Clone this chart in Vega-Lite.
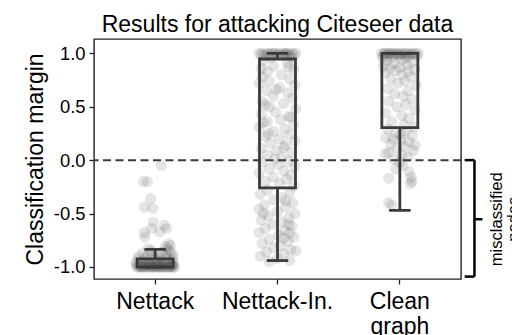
{
  "$schema": "https://vega.github.io/schema/vega-lite/v6.json",
  "width": 367,
  "height": 240,
  "autosize": {"type": "none"},
  "padding": {"left": 94, "top": 39, "right": 51, "bottom": 56},
  "background": "white",
  "title": {
    "text": "Results for attacking Citeseer data",
    "font": "Liberation Sans",
    "fontSize": 23,
    "fontWeight": "normal",
    "color": "#000",
    "anchor": "middle",
    "baseline": "alphabetic",
    "offset": 8,
    "dy": 24
  },
  "config": {
    "view": {"stroke": "#222", "strokeWidth": 1.4},
    "axis": {
      "domain": false,
      "grid": false,
      "tickColor": "#222",
      "tickWidth": 1.3,
      "tickSize": 5,
      "labelFont": "Liberation Sans",
      "titleFont": "Liberation Sans",
      "labelColor": "#000",
      "titleColor": "#000",
      "titleFontWeight": "normal"
    }
  },
  "datasets": {
    "points": [
      {"method": "Nettack", "margin": -0.05, "jitter": 0.3},
      {"method": "Nettack", "margin": -0.2, "jitter": -0.58},
      {"method": "Nettack", "margin": -0.2, "jitter": -0.38},
      {"method": "Nettack", "margin": -0.36, "jitter": -0.22},
      {"method": "Nettack", "margin": -0.44, "jitter": -0.53},
      {"method": "Nettack", "margin": -0.45, "jitter": -0.12},
      {"method": "Nettack", "margin": -0.58, "jitter": -0.09},
      {"method": "Nettack", "margin": -0.61, "jitter": 0.45},
      {"method": "Nettack", "margin": -0.64, "jitter": 0.55},
      {"method": "Nettack", "margin": -0.68, "jitter": -0.53},
      {"method": "Nettack", "margin": -0.64, "jitter": -0.17},
      {"method": "Nettack", "margin": -0.67, "jitter": 0.22},
      {"method": "Nettack", "margin": -0.72, "jitter": -0.5},
      {"method": "Nettack", "margin": -0.78, "jitter": 0.67},
      {"method": "Nettack", "margin": -0.8, "jitter": 0.75},
      {"method": "Nettack", "margin": -0.81, "jitter": 0.5},
      {"method": "Nettack", "margin": -0.83, "jitter": 0.6},
      {"method": "Nettack", "margin": -0.83, "jitter": -0.33},
      {"method": "Nettack", "margin": -0.85, "jitter": 0.7},
      {"method": "Nettack", "margin": -0.85, "jitter": -0.2},
      {"method": "Nettack", "margin": -0.86, "jitter": 0.35},
      {"method": "Nettack", "margin": -0.87, "jitter": -0.6},
      {"method": "Nettack", "margin": -0.87, "jitter": 0.8},
      {"method": "Nettack", "margin": -0.88, "jitter": 0.1},
      {"method": "Nettack", "margin": -0.89, "jitter": -0.35},
      {"method": "Nettack", "margin": -0.89, "jitter": 0.55},
      {"method": "Nettack", "margin": -0.9, "jitter": 0.9},
      {"method": "Nettack", "margin": -0.9, "jitter": -0.8},
      {"method": "Nettack", "margin": -0.91, "jitter": 0.25},
      {"method": "Nettack", "margin": -0.91, "jitter": -0.1},
      {"method": "Nettack", "margin": -0.92, "jitter": -0.5},
      {"method": "Nettack", "margin": -0.92, "jitter": 0.6},
      {"method": "Nettack", "margin": -0.93, "jitter": 0.0},
      {"method": "Nettack", "margin": -0.93, "jitter": 0.85},
      {"method": "Nettack", "margin": -0.93, "jitter": -0.85},
      {"method": "Nettack", "margin": -0.94, "jitter": -0.3},
      {"method": "Nettack", "margin": -0.94, "jitter": 0.4},
      {"method": "Nettack", "margin": -0.95, "jitter": 0.7},
      {"method": "Nettack", "margin": -0.95, "jitter": -0.65},
      {"method": "Nettack", "margin": -0.95, "jitter": 0.15},
      {"method": "Nettack", "margin": -0.96, "jitter": -0.4},
      {"method": "Nettack", "margin": -0.96, "jitter": 0.5},
      {"method": "Nettack", "margin": -0.96, "jitter": -0.95},
      {"method": "Nettack", "margin": -0.97, "jitter": 0.05},
      {"method": "Nettack", "margin": -0.97, "jitter": 0.9},
      {"method": "Nettack", "margin": -0.97, "jitter": -0.7},
      {"method": "Nettack", "margin": -0.97, "jitter": 0.35},
      {"method": "Nettack", "margin": -0.98, "jitter": -0.2},
      {"method": "Nettack", "margin": -0.98, "jitter": 0.6},
      {"method": "Nettack", "margin": -0.98, "jitter": -0.9},
      {"method": "Nettack", "margin": -0.98, "jitter": 0.2},
      {"method": "Nettack", "margin": -0.99, "jitter": 0.8},
      {"method": "Nettack", "margin": -0.99, "jitter": -0.5},
      {"method": "Nettack", "margin": -0.99, "jitter": 0.0},
      {"method": "Nettack", "margin": -0.99, "jitter": -0.25},
      {"method": "Nettack", "margin": -0.99, "jitter": 0.45},
      {"method": "Nettack", "margin": -1.0, "jitter": -0.9},
      {"method": "Nettack", "margin": -1.0, "jitter": -0.7},
      {"method": "Nettack", "margin": -1.0, "jitter": -0.5},
      {"method": "Nettack", "margin": -1.0, "jitter": -0.3},
      {"method": "Nettack", "margin": -1.0, "jitter": -0.1},
      {"method": "Nettack", "margin": -1.0, "jitter": 0.1},
      {"method": "Nettack", "margin": -1.0, "jitter": 0.3},
      {"method": "Nettack", "margin": -1.0, "jitter": 0.5},
      {"method": "Nettack", "margin": -1.0, "jitter": 0.7},
      {"method": "Nettack", "margin": -1.0, "jitter": 0.9},
      {"method": "Nettack", "margin": -1.0, "jitter": -0.8},
      {"method": "Nettack", "margin": -1.0, "jitter": -0.4},
      {"method": "Nettack", "margin": -1.0, "jitter": 0.0},
      {"method": "Nettack", "margin": -1.0, "jitter": 0.4},
      {"method": "Nettack", "margin": -1.0, "jitter": 0.8},
      {"method": "Nettack", "margin": -1.0, "jitter": -0.6},
      {"method": "Nettack", "margin": -1.0, "jitter": -0.2},
      {"method": "Nettack", "margin": -1.0, "jitter": 0.2},
      {"method": "Nettack", "margin": -1.0, "jitter": 0.6},
      {"method": "Nettack", "margin": -1.0, "jitter": 0.95},
      {"method": "Nettack", "margin": -1.0, "jitter": -0.65},
      {"method": "Nettack", "margin": -1.0, "jitter": -0.15},
      {"method": "Nettack", "margin": -1.0, "jitter": 0.25},
      {"method": "Nettack", "margin": -1.0, "jitter": 0.65},
      {"method": "Nettack", "margin": -0.99, "jitter": -0.75},
      {"method": "Nettack", "margin": -0.99, "jitter": 0.15},
      {"method": "Nettack", "margin": -0.98, "jitter": -0.45},
      {"method": "Nettack", "margin": -0.98, "jitter": 0.85},
      {"method": "Nettack", "margin": -0.97, "jitter": -0.3},
      {"method": "Nettack", "margin": -0.96, "jitter": 0.1},

      {"method": "Nettack-In.", "margin": 1.0, "jitter": -0.9},
      {"method": "Nettack-In.", "margin": 1.0, "jitter": -0.7},
      {"method": "Nettack-In.", "margin": 1.0, "jitter": -0.5},
      {"method": "Nettack-In.", "margin": 1.0, "jitter": -0.3},
      {"method": "Nettack-In.", "margin": 1.0, "jitter": -0.1},
      {"method": "Nettack-In.", "margin": 1.0, "jitter": 0.1},
      {"method": "Nettack-In.", "margin": 1.0, "jitter": 0.3},
      {"method": "Nettack-In.", "margin": 1.0, "jitter": 0.5},
      {"method": "Nettack-In.", "margin": 1.0, "jitter": 0.7},
      {"method": "Nettack-In.", "margin": 1.0, "jitter": 0.9},
      {"method": "Nettack-In.", "margin": 1.0, "jitter": -0.2},
      {"method": "Nettack-In.", "margin": 1.0, "jitter": 0.4},
      {"method": "Nettack-In.", "margin": 0.99, "jitter": -0.8},
      {"method": "Nettack-In.", "margin": 0.99, "jitter": -0.4},
      {"method": "Nettack-In.", "margin": 0.99, "jitter": 0.0},
      {"method": "Nettack-In.", "margin": 0.99, "jitter": 0.4},
      {"method": "Nettack-In.", "margin": 0.99, "jitter": 0.8},
      {"method": "Nettack-In.", "margin": 0.98, "jitter": -0.6},
      {"method": "Nettack-In.", "margin": 0.98, "jitter": 0.2},
      {"method": "Nettack-In.", "margin": 0.98, "jitter": 0.6},
      {"method": "Nettack-In.", "margin": 0.96, "jitter": -0.3},
      {"method": "Nettack-In.", "margin": 0.96, "jitter": 0.7},
      {"method": "Nettack-In.", "margin": 0.93, "jitter": -0.7},
      {"method": "Nettack-In.", "margin": 0.91, "jitter": 0.5},
      {"method": "Nettack-In.", "margin": 0.88, "jitter": -0.2},
      {"method": "Nettack-In.", "margin": 0.87, "jitter": 0.55},
      {"method": "Nettack-In.", "margin": 0.86, "jitter": -0.8},
      {"method": "Nettack-In.", "margin": 0.85, "jitter": 0.8},
      {"method": "Nettack-In.", "margin": 0.83, "jitter": -0.5},
      {"method": "Nettack-In.", "margin": 0.8, "jitter": 0.2},
      {"method": "Nettack-In.", "margin": 0.78, "jitter": -0.75},
      {"method": "Nettack-In.", "margin": 0.76, "jitter": 0.6},
      {"method": "Nettack-In.", "margin": 0.74, "jitter": -0.4},
      {"method": "Nettack-In.", "margin": 0.72, "jitter": -0.9},
      {"method": "Nettack-In.", "margin": 0.7, "jitter": 0.85},
      {"method": "Nettack-In.", "margin": 0.68, "jitter": 0.1},
      {"method": "Nettack-In.", "margin": 0.66, "jitter": -0.05},
      {"method": "Nettack-In.", "margin": 0.65, "jitter": -0.55},
      {"method": "Nettack-In.", "margin": 0.63, "jitter": 0.5},
      {"method": "Nettack-In.", "margin": 0.6, "jitter": -0.2},
      {"method": "Nettack-In.", "margin": 0.58, "jitter": 0.75},
      {"method": "Nettack-In.", "margin": 0.55, "jitter": -0.75},
      {"method": "Nettack-In.", "margin": 0.53, "jitter": 0.3},
      {"method": "Nettack-In.", "margin": 0.52, "jitter": -0.6},
      {"method": "Nettack-In.", "margin": 0.5, "jitter": -0.4},
      {"method": "Nettack-In.", "margin": 0.48, "jitter": 0.9},
      {"method": "Nettack-In.", "margin": 0.45, "jitter": -0.1},
      {"method": "Nettack-In.", "margin": 0.43, "jitter": -0.8},
      {"method": "Nettack-In.", "margin": 0.41, "jitter": 0.55},
      {"method": "Nettack-In.", "margin": 0.4, "jitter": 0.65},
      {"method": "Nettack-In.", "margin": 0.38, "jitter": 0.15},
      {"method": "Nettack-In.", "margin": 0.36, "jitter": -0.5},
      {"method": "Nettack-In.", "margin": 0.35, "jitter": -0.7},
      {"method": "Nettack-In.", "margin": 0.33, "jitter": 0.8},
      {"method": "Nettack-In.", "margin": 0.31, "jitter": -0.9},
      {"method": "Nettack-In.", "margin": 0.29, "jitter": 0.35},
      {"method": "Nettack-In.", "margin": 0.27, "jitter": -0.2},
      {"method": "Nettack-In.", "margin": 0.25, "jitter": -0.45},
      {"method": "Nettack-In.", "margin": 0.24, "jitter": 0.6},
      {"method": "Nettack-In.", "margin": 0.22, "jitter": -0.6},
      {"method": "Nettack-In.", "margin": 0.2, "jitter": 0.1},
      {"method": "Nettack-In.", "margin": 0.18, "jitter": 0.85},
      {"method": "Nettack-In.", "margin": 0.16, "jitter": -0.35},
      {"method": "Nettack-In.", "margin": 0.14, "jitter": 0.4},
      {"method": "Nettack-In.", "margin": 0.12, "jitter": 0.3},
      {"method": "Nettack-In.", "margin": 0.11, "jitter": -0.8},
      {"method": "Nettack-In.", "margin": 0.09, "jitter": -0.05},
      {"method": "Nettack-In.", "margin": 0.07, "jitter": 0.7},
      {"method": "Nettack-In.", "margin": 0.05, "jitter": -0.5},
      {"method": "Nettack-In.", "margin": 0.03, "jitter": 0.2},
      {"method": "Nettack-In.", "margin": 0.01, "jitter": -0.15},
      {"method": "Nettack-In.", "margin": -0.01, "jitter": 0.55},
      {"method": "Nettack-In.", "margin": -0.02, "jitter": -0.75},
      {"method": "Nettack-In.", "margin": -0.04, "jitter": 0.05},
      {"method": "Nettack-In.", "margin": -0.06, "jitter": 0.85},
      {"method": "Nettack-In.", "margin": -0.08, "jitter": -0.4},
      {"method": "Nettack-In.", "margin": -0.1, "jitter": 0.3},
      {"method": "Nettack-In.", "margin": -0.12, "jitter": -0.9},
      {"method": "Nettack-In.", "margin": -0.14, "jitter": 0.65},
      {"method": "Nettack-In.", "margin": -0.16, "jitter": -0.2},
      {"method": "Nettack-In.", "margin": -0.18, "jitter": 0.45},
      {"method": "Nettack-In.", "margin": -0.2, "jitter": -0.6},
      {"method": "Nettack-In.", "margin": -0.22, "jitter": 0.1},
      {"method": "Nettack-In.", "margin": -0.24, "jitter": 0.8},
      {"method": "Nettack-In.", "margin": -0.28, "jitter": -0.5},
      {"method": "Nettack-In.", "margin": -0.3, "jitter": 0.6},
      {"method": "Nettack-In.", "margin": -0.32, "jitter": -0.85},
      {"method": "Nettack-In.", "margin": -0.35, "jitter": 0.2},
      {"method": "Nettack-In.", "margin": -0.37, "jitter": -0.2},
      {"method": "Nettack-In.", "margin": -0.38, "jitter": 0.4},
      {"method": "Nettack-In.", "margin": -0.4, "jitter": 0.75},
      {"method": "Nettack-In.", "margin": -0.42, "jitter": -0.65},
      {"method": "Nettack-In.", "margin": -0.44, "jitter": 0.4},
      {"method": "Nettack-In.", "margin": -0.46, "jitter": -0.9},
      {"method": "Nettack-In.", "margin": -0.48, "jitter": 0.0},
      {"method": "Nettack-In.", "margin": -0.5, "jitter": 0.85},
      {"method": "Nettack-In.", "margin": -0.5, "jitter": -0.7},
      {"method": "Nettack-In.", "margin": -0.52, "jitter": -0.45},
      {"method": "Nettack-In.", "margin": -0.54, "jitter": 0.55},
      {"method": "Nettack-In.", "margin": -0.56, "jitter": -0.8},
      {"method": "Nettack-In.", "margin": -0.58, "jitter": 0.2},
      {"method": "Nettack-In.", "margin": -0.6, "jitter": -0.25},
      {"method": "Nettack-In.", "margin": -0.6, "jitter": 0.55},
      {"method": "Nettack-In.", "margin": -0.62, "jitter": 0.7},
      {"method": "Nettack-In.", "margin": -0.64, "jitter": -0.6},
      {"method": "Nettack-In.", "margin": -0.66, "jitter": 0.35},
      {"method": "Nettack-In.", "margin": -0.68, "jitter": -0.9},
      {"method": "Nettack-In.", "margin": -0.68, "jitter": 0.6},
      {"method": "Nettack-In.", "margin": -0.7, "jitter": 0.05},
      {"method": "Nettack-In.", "margin": -0.72, "jitter": 0.8},
      {"method": "Nettack-In.", "margin": -0.73, "jitter": 0.3},
      {"method": "Nettack-In.", "margin": -0.74, "jitter": -0.4},
      {"method": "Nettack-In.", "margin": -0.76, "jitter": 0.5},
      {"method": "Nettack-In.", "margin": -0.78, "jitter": -0.75},
      {"method": "Nettack-In.", "margin": -0.8, "jitter": 0.15},
      {"method": "Nettack-In.", "margin": -0.82, "jitter": -0.2},
      {"method": "Nettack-In.", "margin": -0.84, "jitter": 0.65},
      {"method": "Nettack-In.", "margin": -0.85, "jitter": 0.9},
      {"method": "Nettack-In.", "margin": -0.86, "jitter": -0.55},
      {"method": "Nettack-In.", "margin": -0.88, "jitter": 0.3},
      {"method": "Nettack-In.", "margin": -0.9, "jitter": -0.85},
      {"method": "Nettack-In.", "margin": -0.92, "jitter": 0.0},
      {"method": "Nettack-In.", "margin": -0.94, "jitter": 0.6},
      {"method": "Nettack-In.", "margin": -0.95, "jitter": -0.4},

      {"method": "Clean graph", "margin": 1.0, "jitter": -0.9},
      {"method": "Clean graph", "margin": 1.0, "jitter": -0.75},
      {"method": "Clean graph", "margin": 1.0, "jitter": -0.6},
      {"method": "Clean graph", "margin": 1.0, "jitter": -0.45},
      {"method": "Clean graph", "margin": 1.0, "jitter": -0.3},
      {"method": "Clean graph", "margin": 1.0, "jitter": -0.15},
      {"method": "Clean graph", "margin": 1.0, "jitter": 0.0},
      {"method": "Clean graph", "margin": 1.0, "jitter": 0.15},
      {"method": "Clean graph", "margin": 1.0, "jitter": 0.3},
      {"method": "Clean graph", "margin": 1.0, "jitter": 0.45},
      {"method": "Clean graph", "margin": 1.0, "jitter": 0.6},
      {"method": "Clean graph", "margin": 1.0, "jitter": 0.75},
      {"method": "Clean graph", "margin": 1.0, "jitter": 0.9},
      {"method": "Clean graph", "margin": 1.0, "jitter": -0.5},
      {"method": "Clean graph", "margin": 0.99, "jitter": -0.8},
      {"method": "Clean graph", "margin": 0.99, "jitter": -0.3},
      {"method": "Clean graph", "margin": 0.99, "jitter": 0.2},
      {"method": "Clean graph", "margin": 0.99, "jitter": 0.6},
      {"method": "Clean graph", "margin": 0.99, "jitter": -0.1},
      {"method": "Clean graph", "margin": 0.98, "jitter": -0.6},
      {"method": "Clean graph", "margin": 0.98, "jitter": 0.0},
      {"method": "Clean graph", "margin": 0.98, "jitter": 0.45},
      {"method": "Clean graph", "margin": 0.98, "jitter": 0.85},
      {"method": "Clean graph", "margin": 0.96, "jitter": -0.4},
      {"method": "Clean graph", "margin": 0.96, "jitter": 0.3},
      {"method": "Clean graph", "margin": 0.96, "jitter": -0.85},
      {"method": "Clean graph", "margin": 0.94, "jitter": 0.1},
      {"method": "Clean graph", "margin": 0.93, "jitter": -0.65},
      {"method": "Clean graph", "margin": 0.92, "jitter": 0.6},
      {"method": "Clean graph", "margin": 0.9, "jitter": -0.3},
      {"method": "Clean graph", "margin": 0.89, "jitter": 0.35},
      {"method": "Clean graph", "margin": 0.88, "jitter": -0.8},
      {"method": "Clean graph", "margin": 0.87, "jitter": 0.0},
      {"method": "Clean graph", "margin": 0.86, "jitter": -0.5},
      {"method": "Clean graph", "margin": 0.85, "jitter": 0.75},
      {"method": "Clean graph", "margin": 0.84, "jitter": -0.2},
      {"method": "Clean graph", "margin": 0.83, "jitter": 0.4},
      {"method": "Clean graph", "margin": 0.82, "jitter": -0.7},
      {"method": "Clean graph", "margin": 0.8, "jitter": 0.1},
      {"method": "Clean graph", "margin": 0.78, "jitter": 0.55},
      {"method": "Clean graph", "margin": 0.76, "jitter": -0.45},
      {"method": "Clean graph", "margin": 0.74, "jitter": 0.25},
      {"method": "Clean graph", "margin": 0.72, "jitter": -0.1},
      {"method": "Clean graph", "margin": 0.7, "jitter": 0.8},
      {"method": "Clean graph", "margin": 0.67, "jitter": -0.6},
      {"method": "Clean graph", "margin": 0.65, "jitter": 0.4},
      {"method": "Clean graph", "margin": 0.62, "jitter": -0.25},
      {"method": "Clean graph", "margin": 0.6, "jitter": 0.15},
      {"method": "Clean graph", "margin": 0.57, "jitter": 0.6},
      {"method": "Clean graph", "margin": 0.55, "jitter": -0.55},
      {"method": "Clean graph", "margin": 0.52, "jitter": 0.3},
      {"method": "Clean graph", "margin": 0.5, "jitter": -0.15},
      {"method": "Clean graph", "margin": 0.47, "jitter": 0.75},
      {"method": "Clean graph", "margin": 0.44, "jitter": -0.7},
      {"method": "Clean graph", "margin": 0.42, "jitter": 0.1},
      {"method": "Clean graph", "margin": 0.39, "jitter": 0.45},
      {"method": "Clean graph", "margin": 0.36, "jitter": -0.4},
      {"method": "Clean graph", "margin": 0.33, "jitter": 0.2},
      {"method": "Clean graph", "margin": 0.31, "jitter": 0.7},
      {"method": "Clean graph", "margin": 0.29, "jitter": -0.6},
      {"method": "Clean graph", "margin": 0.27, "jitter": 0.3},
      {"method": "Clean graph", "margin": 0.25, "jitter": -0.2},
      {"method": "Clean graph", "margin": 0.24, "jitter": 0.05},
      {"method": "Clean graph", "margin": 0.23, "jitter": 0.6},
      {"method": "Clean graph", "margin": 0.21, "jitter": -0.7},
      {"method": "Clean graph", "margin": 0.2, "jitter": -0.35},
      {"method": "Clean graph", "margin": 0.19, "jitter": 0.05},
      {"method": "Clean graph", "margin": 0.17, "jitter": 0.45},
      {"method": "Clean graph", "margin": 0.15, "jitter": -0.45},
      {"method": "Clean graph", "margin": 0.14, "jitter": 0.75},
      {"method": "Clean graph", "margin": 0.13, "jitter": 0.2},
      {"method": "Clean graph", "margin": 0.11, "jitter": -0.15},
      {"method": "Clean graph", "margin": 0.09, "jitter": 0.65},
      {"method": "Clean graph", "margin": 0.07, "jitter": -0.55},
      {"method": "Clean graph", "margin": 0.06, "jitter": -0.7},
      {"method": "Clean graph", "margin": 0.05, "jitter": 0.1},
      {"method": "Clean graph", "margin": 0.03, "jitter": 0.4},
      {"method": "Clean graph", "margin": 0.01, "jitter": -0.3},
      {"method": "Clean graph", "margin": -0.02, "jitter": 0.0},
      {"method": "Clean graph", "margin": -0.05, "jitter": 0.15},
      {"method": "Clean graph", "margin": -0.08, "jitter": -0.2},
      {"method": "Clean graph", "margin": -0.11, "jitter": 0.45},
      {"method": "Clean graph", "margin": -0.16, "jitter": 0.55},
      {"method": "Clean graph", "margin": -0.17, "jitter": -0.55},
      {"method": "Clean graph", "margin": -0.2, "jitter": 0.6},
      {"method": "Clean graph", "margin": -0.22, "jitter": 0.5},
      {"method": "Clean graph", "margin": -0.4, "jitter": -0.55},
      {"method": "Clean graph", "margin": -0.42, "jitter": -0.4}
    ],
    "stats": [
      {"method": "Nettack", "lo": -1.0, "q1": -1.0, "q3": -0.925, "hi": -0.835},
      {"method": "Nettack-In.", "lo": -0.94, "q1": -0.26, "q3": 0.947, "hi": 1.0},
      {"method": "Clean graph", "lo": -0.47, "q1": 0.305, "q3": 1.0, "hi": 1.0}
    ]
  },
  "layer": [
    {
      "layer": [
        {
          "data": {"name": "points"},
          "mark": {"type": "circle", "size": 125, "color": "#444", "opacity": 0.14},
          "encoding": {
            "x": {
              "field": "method",
              "type": "nominal",
              "sort": ["Nettack", "Nettack-In.", "Clean graph"],
              "scale": {"paddingInner": 0, "paddingOuter": 0},
              "axis": {
                "title": null,
                "labelAngle": 0,
                "labelFontSize": 23,
                "labelPadding": 6,
                "labelLineHeight": 25,
                "labelExpr": "datum.value == 'Clean graph' ? ['Clean', 'graph'] : datum.value"
              }
            },
            "xOffset": {"field": "jitter", "type": "quantitative", "scale": {"domain": [-3, 3]}},
            "y": {
              "field": "margin",
              "type": "quantitative",
              "scale": {"domain": [-1.1125, 1.134], "nice": false, "zero": false},
              "axis": {
                "title": "Classification margin",
                "titleFontSize": 23,
                "labelFontSize": 18.4,
                "values": [-1, -0.5, 0, 0.5, 1],
                "labelExpr": "replace(format(datum.value, '.1f'), '\u2212', '-')",
                "labelPadding": 4,
                "titlePadding": 6
              }
            }
          }
        },
        {
          "data": {"name": "stats"},
          "mark": {"type": "rule", "color": "#3b3b3b", "strokeWidth": 2.8},
          "encoding": {
            "x": {"field": "method", "type": "nominal", "sort": ["Nettack", "Nettack-In.", "Clean graph"]},
            "y": {"field": "lo", "type": "quantitative", "title": "Classification margin"},
            "y2": {"field": "q1"}
          }
        },
        {
          "data": {"name": "stats"},
          "mark": {"type": "rule", "color": "#3b3b3b", "strokeWidth": 2.8},
          "encoding": {
            "x": {"field": "method", "type": "nominal", "sort": ["Nettack", "Nettack-In.", "Clean graph"]},
            "y": {"field": "q3", "type": "quantitative", "title": "Classification margin"},
            "y2": {"field": "hi"}
          }
        },
        {
          "data": {"name": "stats"},
          "mark": {"type": "bar", "width": 36, "fillOpacity": 0, "stroke": "#3b3b3b", "strokeWidth": 2.8},
          "encoding": {
            "x": {"field": "method", "type": "nominal", "sort": ["Nettack", "Nettack-In.", "Clean graph"]},
            "y": {"field": "q1", "type": "quantitative", "title": "Classification margin"},
            "y2": {"field": "q3"}
          }
        },
        {
          "data": {"name": "stats"},
          "mark": {"type": "tick", "size": 21.5, "thickness": 2.8, "color": "#3b3b3b", "opacity": 1},
          "encoding": {
            "x": {"field": "method", "type": "nominal", "sort": ["Nettack", "Nettack-In.", "Clean graph"]},
            "y": {"field": "lo", "type": "quantitative", "title": "Classification margin"}
          }
        },
        {
          "data": {"name": "stats"},
          "mark": {"type": "tick", "size": 21.5, "thickness": 2.8, "color": "#3b3b3b", "opacity": 1},
          "encoding": {
            "x": {"field": "method", "type": "nominal", "sort": ["Nettack", "Nettack-In.", "Clean graph"]},
            "y": {"field": "hi", "type": "quantitative", "title": "Classification margin"}
          }
        },
        {
          "data": {"values": [{}]},
          "mark": {"type": "rule", "color": "#3b3b3b", "strokeWidth": 2, "strokeDash": [8, 4.5]},
          "encoding": {"y": {"datum": 0, "type": "quantitative"}}
        }
      ]
    },
    {
      "data": {"values": [{}]},
      "layer": [
        {
          "mark": {"type": "rule", "color": "#000", "strokeWidth": 2.5},
          "encoding": {
            "x": {"datum": 3.03, "type": "quantitative", "scale": {"domain": [0, 3], "nice": false, "zero": false}, "axis": null},
            "x2": {"datum": 3.11},
            "y": {"datum": 0, "type": "quantitative"}
          }
        },
        {
          "mark": {"type": "rule", "color": "#000", "strokeWidth": 2.5},
          "encoding": {
            "x": {"datum": 3.03, "type": "quantitative"},
            "x2": {"datum": 3.11},
            "y": {"datum": -1.09, "type": "quantitative"}
          }
        },
        {
          "mark": {"type": "rule", "color": "#000", "strokeWidth": 2.5},
          "encoding": {
            "x": {"datum": 3.11, "type": "quantitative"},
            "y": {"datum": 0, "type": "quantitative"},
            "y2": {"datum": -1.09}
          }
        },
        {
          "mark": {"type": "rule", "color": "#000", "strokeWidth": 2.5},
          "encoding": {
            "x": {"datum": 3.11, "type": "quantitative"},
            "x2": {"datum": 3.175},
            "y": {"datum": -0.553, "type": "quantitative"}
          }
        },
        {
          "mark": {
            "type": "text",
            "text": ["misclassified", "nodes"],
            "angle": 270,
            "align": "center",
            "baseline": "top",
            "font": "Liberation Sans",
            "fontSize": 16.6,
            "lineHeight": 17,
            "color": "#000"
          },
          "encoding": {
            "x": {"datum": 3.225, "type": "quantitative"},
            "y": {"datum": -0.553, "type": "quantitative"}
          }
        }
      ]
    }
  ],
  "resolve": {"scale": {"x": "independent"}}
}
